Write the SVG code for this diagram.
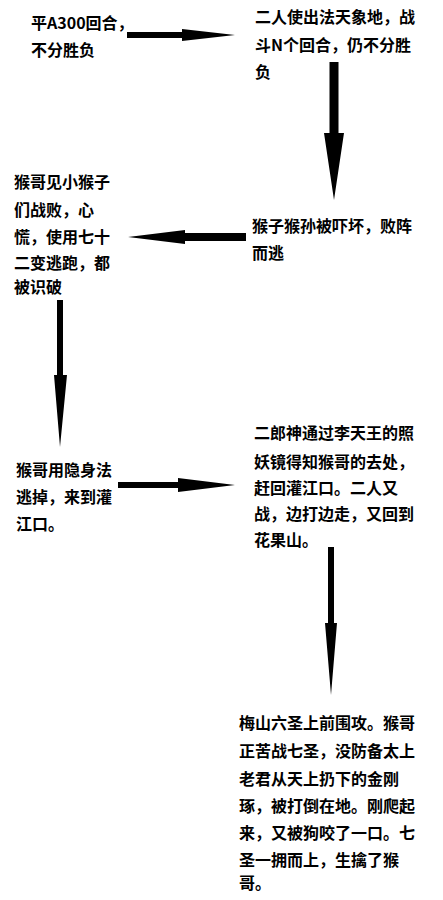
<svg xmlns="http://www.w3.org/2000/svg" width="443" height="900" viewBox="0 0 443 900">
<style>
.t{font-family:"Noto Sans CJK SC","Noto Sans",sans-serif;font-size:16px;font-weight:bold;fill:#000}
.a{fill:#000;stroke:none}
</style>
<rect width="443" height="900" fill="#fff"/>
<g id="connectors">
<path class="a" d="M127,32H182V29L235,35L182,41V38H127Z"/>
<path class="a" d="M329.5,62H338.5V133H344L334,200L324,133H329.5Z"/>
<path class="a" d="M246,233V241H185V244L128,237L185,230V233Z"/>
<path class="a" d="M57,300H63V375H67L60,447L54,375H57Z"/>
<path class="a" d="M118,482H178V478L235,485L178,492V488H118Z"/>
<path class="a" d="M328,547H334V623H337L331,695L325,623H328Z"/>
</g>
<g id="n1"><text class="t" x="31"><tspan x="31" y="29">平A300回合，</tspan><tspan x="31" y="56">不分胜负</tspan></text></g>
<g id="n2"><text class="t"><tspan x="255" y="23">二人使出法天象地，战</tspan><tspan x="255" y="51">斗N个回合，仍不分胜</tspan><tspan x="255" y="78">负</tspan></text></g>
<g id="n3"><text class="t"><tspan x="252" y="232">猴子猴孙被吓坏，败阵</tspan><tspan x="252" y="259">而逃</tspan></text></g>
<g id="n4"><text class="t"><tspan x="14" y="188">猴哥见小猴子</tspan><tspan x="14" y="216">们战败，心</tspan><tspan x="14" y="243">慌，使用七十</tspan><tspan x="14" y="269">二变逃跑，都</tspan><tspan x="14" y="293">被识破</tspan></text></g>
<g id="n5"><text class="t"><tspan x="16" y="476">猴哥用隐身法</tspan><tspan x="16" y="503">逃掉，来到灌</tspan><tspan x="16" y="530">江口。</tspan></text></g>
<g id="n6"><text class="t"><tspan x="254" y="439">二郎神通过李天王的照</tspan><tspan x="254" y="468">妖镜得知猴哥的去处，</tspan><tspan x="254" y="494">赶回灌江口。二人又</tspan><tspan x="254" y="520">战，边打边走，又回到</tspan><tspan x="254" y="546">花果山。</tspan></text></g>
<g id="n7"><text class="t"><tspan x="239" y="729">梅山六圣上前围攻。猴哥</tspan><tspan x="239" y="757">正苦战七圣，没防备太上</tspan><tspan x="239" y="785">老君从天上扔下的金刚</tspan><tspan x="239" y="812">琢，被打倒在地。刚爬起</tspan><tspan x="239" y="839">来，又被狗咬了一口。七</tspan><tspan x="239" y="866">圣一拥而上，生擒了猴</tspan><tspan x="239" y="889">哥。</tspan></text></g>
</svg>
